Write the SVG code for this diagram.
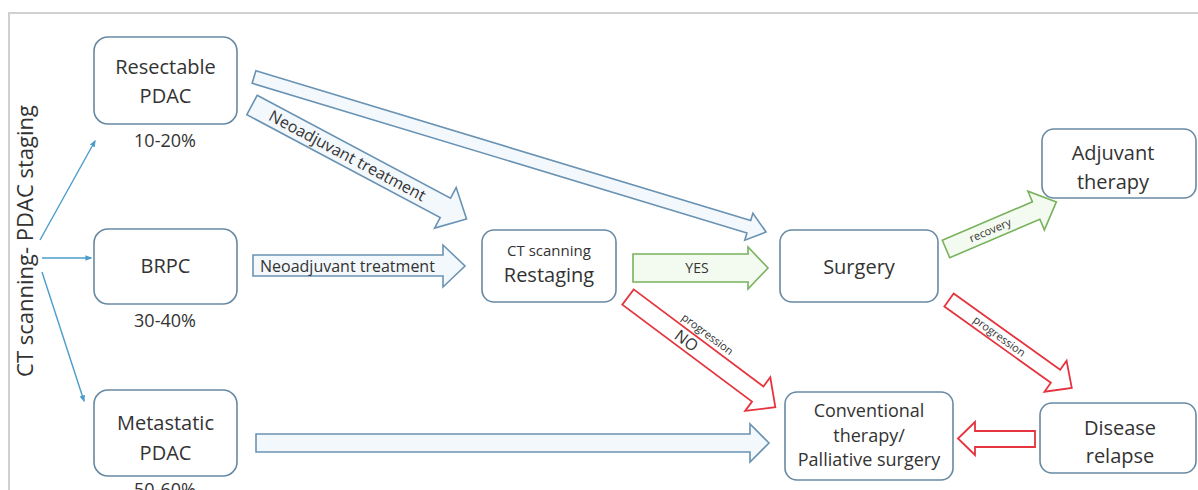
<svg xmlns="http://www.w3.org/2000/svg" width="1198" height="490" viewBox="0 0 1198 490">
<defs>
<style>
text{font-family:"Open Sans","Liberation Sans",sans-serif;fill:#333}
.node rect{fill:#fff;stroke:#6889a2;stroke-width:1.6}
.t20{font-size:20px;text-anchor:middle}
.t18{font-size:18px;text-anchor:middle}
.t16{font-size:16px}
.t11{font-size:11px;text-anchor:middle}
.ba{fill:#f3f8fc;stroke:#6a93b3;stroke-width:1.6;stroke-linejoin:miter}
.ga{fill:#f3faef;stroke:#78b25c;stroke-width:1.6}
.ra{fill:#fff;stroke:#e5343e;stroke-width:1.8}
.thin{stroke:#4b9ccb;stroke-width:1.4;fill:none;marker-end:url(#ah)}
</style>
<marker id="ah" viewBox="0 0 10 10" refX="8" refY="5" markerWidth="5" markerHeight="5" orient="auto">
<path d="M0,1 L10,5 L0,9 Z" fill="#4b9ccb"/>
</marker>
</defs>
<rect width="1198" height="490" fill="#fff"/>
<path d="M9,490 V13 H1198" fill="none" stroke="#d0d0d0" stroke-width="2"/>
<text transform="translate(33,241) rotate(-90)" style="font-size:22px;text-anchor:middle">CT scanning- PDAC staging</text>

<g id="connectors">
<line class="thin" x1="40" y1="240" x2="95" y2="141"/>
<line class="thin" x1="42" y1="258" x2="91" y2="258"/>
<line class="thin" x1="42" y1="272" x2="84" y2="401"/>

<g transform="translate(254,77) rotate(16.84)">
<path class="ba" d="M0,-6.5 H517 V-14 L535,0 L517,14 V6.5 H0 Z"/>
</g>
<g transform="translate(252,105) rotate(28)">
<path class="ba" d="M0,-11 H219 V-23 L243,0 L219,23 V11 H0 Z"/>
<text class="t16" x="108" y="5.5" text-anchor="middle">Neoadjuvant treatment</text>
</g>
<path class="ba" d="M253,255 H443 V245 L465,266 L443,287 V276 H253 Z"/>
<text class="t16" x="260" y="271.5">Neoadjuvant treatment</text>

<path class="ga" d="M633,254 H748 V247 L768,268 L748,289 V282 H633 Z"/>
<text x="697" y="273" style="font-size:14px;text-anchor:middle">YES</text>

<g transform="translate(628,297) rotate(36.8)">
<path class="ra" d="M0,-9.5 H162 V-21 L184,0 L162,21 V9.5 H0 Z"/>
<text class="t11" x="86" y="-14">progression</text>
<text x="73" y="5.5" style="font-size:16px;text-anchor:middle">NO</text>
</g>

<g transform="translate(946,249) rotate(-23.1)">
<path class="ga" d="M0,-9.5 H98 V-21 L120,0 L98,21 V9.5 H0 Z"/>
<text class="t11" x="48" y="4">recovery</text>
</g>

<g transform="translate(949,300) rotate(35.6)">
<path class="ra" d="M0,-8 H131 V-19 L151,0 L131,19 V8 H0 Z"/>
<text class="t11" x="62" y="4">progression</text>
</g>

<path class="ba" d="M256,434 H750 V424 L769,443 L750,462 V452 H256 Z"/>
<path class="ra" d="M1035,431 H975 V422 L958,438.5 L975,455 V447 H1035 Z"/>
</g>

<g id="resectable" class="node">
<rect x="94" y="37" width="143" height="87" rx="14"/>
<text class="t20" x="165.5" y="74">Resectable</text>
<text class="t20" x="165.5" y="103">PDAC</text>
<text class="t18" x="165" y="147">10-20%</text>
</g>
<g id="brpc" class="node">
<rect x="94" y="229" width="143" height="75" rx="14"/>
<text class="t20" x="165.5" y="273">BRPC</text>
<text class="t18" x="165" y="327">30-40%</text>
</g>
<g id="metastatic" class="node">
<rect x="94" y="390" width="143" height="86" rx="14"/>
<text class="t20" x="165.5" y="430">Metastatic</text>
<text class="t20" x="165.5" y="460">PDAC</text>
<text class="t18" x="165" y="496">50-60%</text>
</g>
<g id="restaging" class="node">
<rect x="482" y="230" width="134" height="72" rx="12"/>
<text x="549" y="256" style="font-size:15px;text-anchor:middle">CT scanning</text>
<text class="t20" x="549" y="282">Restaging</text>
</g>
<g id="surgery" class="node">
<rect x="780" y="230" width="158" height="72" rx="12"/>
<text class="t20" x="859" y="274">Surgery</text>
</g>
<g id="adjuvant" class="node">
<rect x="1042" y="129" width="154" height="69" rx="12"/>
<text class="t20" x="1113" y="160">Adjuvant</text>
<text class="t20" x="1113" y="189">therapy</text>
</g>
<g id="conventional" class="node">
<rect x="785" y="392" width="168" height="88" rx="12"/>
<text class="t18" x="869" y="417">Conventional</text>
<text class="t18" x="869" y="442">therapy/</text>
<text class="t18" x="869" y="466">Palliative surgery</text>
</g>
<g id="relapse" class="node">
<rect x="1040" y="403" width="156" height="70" rx="12"/>
<text class="t20" x="1120" y="435">Disease</text>
<text class="t20" x="1120" y="463">relapse</text>
</g>
</svg>
